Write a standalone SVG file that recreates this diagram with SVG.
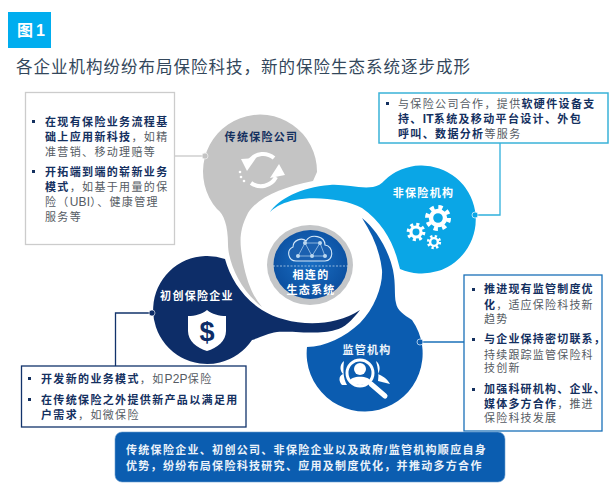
<svg xmlns="http://www.w3.org/2000/svg" width="610" height="488" viewBox="0 0 610 488">
<style>
text{font-family:"Liberation Sans","Noto Sans CJK SC",sans-serif}
.b{font-size:11px;letter-spacing:1.35px;fill:#555b63}
.s{font-weight:700;fill:#14305f}
.la{letter-spacing:.2px;font-size:12px}
.l{font-size:11px;letter-spacing:1.3px;font-weight:700;text-anchor:middle}
.box{fill:#fff}
.bu{fill:#14305f}
.c{fill:none;stroke-width:1.3}
</style>
<defs>
<radialGradient id="core" cx="50%" cy="45%" r="60%"><stop offset="0" stop-color="#1a6fc4"/><stop offset="1" stop-color="#0a4c9c"/></radialGradient>
<g id="gear"><circle r="10.5" fill="none" stroke="#fff" stroke-width="5" stroke-dasharray="4.1 4.15"/><circle r="7" fill="none" stroke="#fff" stroke-width="4.4"/></g>
</defs>
<rect width="610" height="488" fill="#fff"/>
<g id="title">
<rect x="8" y="12" width="43" height="36" fill="#00adef"/>
<text x="17" y="36" font-size="16" fill="#fff" letter-spacing="3" font-weight="700">图1</text>
<text x="16" y="73" font-size="16.5" letter-spacing="1" fill="#33475b">各企业机构纷纷布局保险科技，新的保险生态系统逐步成形</text>
</g>
<g id="connectors">
<path class="c" stroke="#c8c8c8" d="M174 156H205"/>
<path class="c" stroke="#2fb0dc" d="M475 215H500V143"/>
<path class="c" stroke="#12336b" d="M152 313H115.500V366"/>
<path class="c" stroke="#1a70b8" d="M420 342H464"/>
</g>
<g id="node-startup">
<path fill="#0d2d68" d="M225 259C230 278 243 298 262 310C285 325 330 330 360 310C352 320 345 328 335 330C320 335 290 331 277 332C268 333 262 337 252 340A54 54 0 1 1 225 259Z"/>
<circle cx="152" cy="313" r="3" fill="#0d2d68" stroke="#fff" stroke-width=".6"/>
<text class="l" x="197" y="300" fill="#fff">初创保险企业</text>
<path fill="#fff" d="M207 310C212 314 219 316 226 316V331C226 341 217 348 207 351C197 348 188 341 188 331V316C195 316 202 314 207 310Z"/>
<text x="207" y="341" font-size="27" font-weight="700" fill="#0d2d68" text-anchor="middle">$</text>
</g>
<g id="node-traditional">
<path fill="#c4c4c4" d="M313 181L317 172A57 57 0 1 0 217 209C224 214 228 226 228 244C228 262 240 290 262 307C252 295 247 282 243 262C240 245 238 232 248 213C258 197 283 187 313 181Z"/>
<circle cx="205" cy="156" r="3" fill="#c4c4c4" stroke="#eee" stroke-width=".8"/>
<text class="l" x="261.500" y="141" fill="#14305f">传统保险公司</text>
<g fill="none" stroke="#fff" stroke-width="4"><path d="M274 158A17 17 0 0 0 250 160"/><path d="M251 183A17 17 0 0 0 276 177"/></g>
<g fill="#fff"><path d="M241 159L256 158L247 171Z"/><path d="M270 178L285 175L279 164Z"/><circle cx="240" cy="172" r="1.300"/><circle cx="241" cy="177" r="1.300"/><circle cx="244" cy="181" r="1.300"/></g>
</g>
<g id="node-noninsurance">
<path fill="#0aa6e6" d="M270 212C278 200 300 187 330 185C345 184 360 189 373 187C378 186 381 184 385 180A54 54 0 1 1 400 269L397 258C392 240 380 220 362 208C345 199 315 196 295 200C285 202 276 206 270 212Z"/>
<circle cx="475" cy="215" r="3" fill="#0aa6e6" stroke="#d5f0fb" stroke-width=".8"/>
<text class="l" x="423.500" y="197" fill="#fff">非保险机构</text>
<use href="#gear" transform="translate(438 218) scale(1)"/>
<use href="#gear" transform="translate(416 232) scale(.72)"/>
<use href="#gear" transform="translate(434 242) scale(.55)"/>
</g>
<g id="node-regulator">
<path fill="#0b5cb0" d="M362 218C375 228 388 248 393 270C396 285 394 295 396 303C397 310 404 315 412 320A58 58 0 1 1 307 347C325 347 345 337 360 323C375 308 383 285 382 270C380 252 373 235 362 218Z"/>
<circle cx="420" cy="342" r="3" fill="#0b5cb0" stroke="#cfe3f5" stroke-width=".8"/>
<text class="l" x="367" y="354" fill="#eef5fb">监管机构</text>
<circle cx="360" cy="373" r="13" fill="none" stroke="#fff" stroke-width="3"/>
<circle cx="360" cy="369" r="6" fill="#fff"/>
<path fill="#fff" d="M349 382C350 375 370 375 371 382C365 386 355 386 349 382Z"/>
<path stroke="#fff" stroke-width="5" stroke-linecap="round" d="M371 384L385 396"/>
<path fill="#fff" d="M344 361C339 365 340 371 343 374C338 376 339 382 342 385L347 385C343 378 343 369 344 361ZM376 361C381 365 380 371 378 374C382 376 387 378 390 384L378 381C379 375 378 368 376 361Z"/>
</g>
<g id="node-core">
<ellipse cx="310" cy="265" rx="43" ry="40" fill="#c4c6c8"/>
<ellipse cx="310.500" cy="264.500" rx="37" ry="34.500" fill="url(#core)"/>
<path fill="#1a60b0" stroke="#d5e8f8" stroke-width="1.100" d="M296 261C288 261 286 250 293 247C293 240 302 237 306 241C311 233 325 236 325 245C334 246 334 261 325 261Z"/>
<path fill="none" stroke="#bcd8f0" stroke-width=".7" d="M298 256L305 243L312 256L320 243L325 256M298 256H325M305 243H320"/>
<g fill="#bcd8f0"><circle cx="298" cy="256" r="2"/><circle cx="312" cy="256" r="2"/><circle cx="325" cy="256" r="2"/><circle cx="305" cy="243" r="2"/><circle cx="320" cy="243" r="2"/></g>
<path stroke="#cfe2f4" stroke-width=".7" stroke-dasharray="2 1.500" d="M273 266H348"/>
<text class="l" x="311" y="279" fill="#fff">相连的</text>
<text class="l" x="311" y="294" fill="#fff">生态系统</text>
</g>
<g id="box-traditional">
<rect class="box" x="25.500" y="92.500" width="149" height="152" stroke="#ccc" stroke-width="1.300"/>
<rect class="bu" x="32" y="120" width="3" height="3"/>
<rect class="bu" x="32" y="170" width="3" height="3"/>
<text class="b"><tspan class="s" x="45" y="126">在现有保险业务流程基</tspan><tspan x="45" y="141"><tspan class="s">础上应用新科技</tspan>，如精</tspan><tspan x="45" y="156">准营销、移动理赔等</tspan><tspan class="s" x="45" y="176">开拓端到端的崭新业务</tspan><tspan x="45" y="191"><tspan class="s">模式</tspan>，如基于用量的保</tspan><tspan x="45" y="206">险（<tspan class="la">UBI</tspan>）、健康管理</tspan><tspan x="45" y="221">服务等</tspan></text>
</g>
<g id="box-noninsurance">
<rect class="box" x="379" y="93" width="229" height="50" stroke="#3ab2d8" stroke-width="1.500"/>
<rect class="bu" x="386" y="102" width="3" height="3"/>
<text class="b"><tspan x="398" y="108">与保险公司合作，提供<tspan class="s">软硬件设备支</tspan></tspan><tspan class="s" x="398" y="123">持、<tspan class="la">IT</tspan>系统及移动平台设计、外包</tspan><tspan x="398" y="138"><tspan class="s">呼叫、数据分析</tspan>等服务</tspan></text>
</g>
<g id="box-startup">
<rect class="box" x="21.500" y="366" width="224.500" height="61" stroke="#12336b" stroke-width="1.300"/>
<rect class="bu" x="28" y="377" width="3" height="3"/>
<rect class="bu" x="28" y="398" width="3" height="3"/>
<text class="b"><tspan x="41" y="383"><tspan class="s">开发新的业务模式</tspan>，如<tspan class="la">P2P</tspan>保险</tspan><tspan class="s" x="41" y="404">在传统保险之外提供新产品以满足用</tspan><tspan x="41" y="419"><tspan class="s">户需求</tspan>，如微保险</tspan></text>
</g>
<g id="box-regulator">
<rect class="box" x="464" y="275" width="138" height="156" stroke="#1a70b8" stroke-width="1.300"/>
<g class="bu"><rect x="472" y="288" width="3" height="3"/><rect x="472" y="338" width="3" height="3"/><rect x="472" y="388" width="3" height="3"/></g>
<text class="b" style="letter-spacing:1.2px"><tspan class="s" x="484" y="293">推进现有监管制度优</tspan><tspan x="484" y="309"><tspan class="s">化</tspan>，适应保险科技新</tspan><tspan x="484" y="323">趋势</tspan><tspan class="s" x="484" y="343">与企业保持密切联系，</tspan><tspan x="484" y="359">持续跟踪监管保险科</tspan><tspan x="484" y="372">技创新</tspan><tspan class="s" x="484" y="393">加强科研机构、企业、</tspan><tspan x="484" y="408"><tspan class="s">媒体多方合作</tspan>，推进</tspan><tspan x="484" y="422">保险科技发展</tspan></text>
</g>
<g id="banner">
<rect x="115" y="432" width="390" height="50" rx="7" fill="#0b5db0" stroke="#6d9fd0" stroke-width=".6"/>
<text font-size="11" font-weight="700" fill="#eaf2fa" letter-spacing="1.3"><tspan x="126" y="454">传统保险企业、初创公司、非保险企业以及政府/监管机构顺应自身</tspan><tspan x="126" y="470">优势，纷纷布局保险科技研究、应用及制度优化，并推动多方合作</tspan></text>
</g>
</svg>
